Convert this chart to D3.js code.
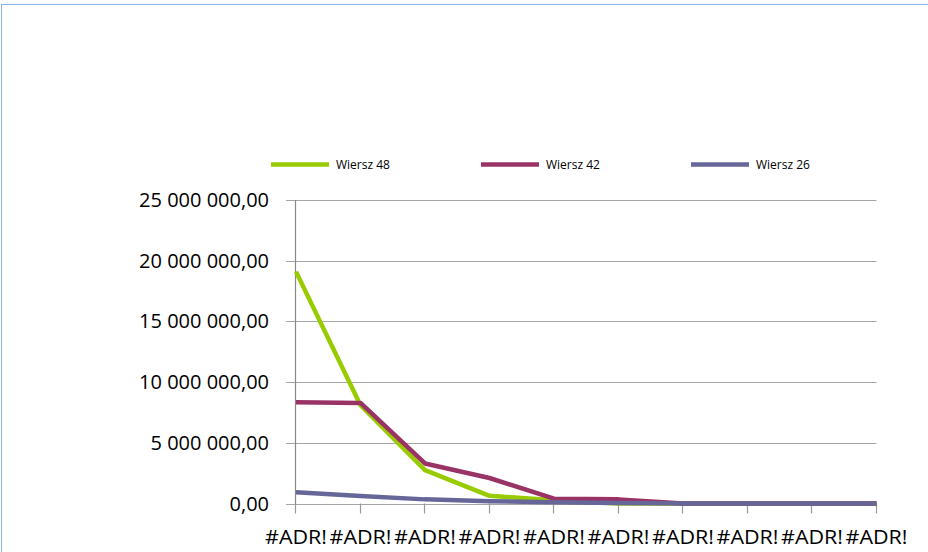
<!DOCTYPE html>
<html>
<head>
<meta charset="utf-8">
<script src="https://cdn.jsdelivr.net/npm/d3@7"></script>
<style>
  body { margin: 0; background: #fff; }
  text { font-family: "Open Sans", sans-serif; }
</style>
</head>
<body>
<div id="chart"></div>
<script>
// Chart size
var w = 928;
var h = 552;

// Data
var categories = ["#ADR!", "#ADR!", "#ADR!", "#ADR!", "#ADR!", "#ADR!", "#ADR!", "#ADR!", "#ADR!", "#ADR!"];
var seriesNames = ["Wiersz 48", "Wiersz 42", "Wiersz 26"];
var wiersz48 = [19100000, 8100000, 2750000, 630000, 270000, 0, 0, 0, 0, 0];
var wiersz42 = [8350000, 8280000, 3300000, 2100000, 400000, 340000, 0, 0, 0, 0];
var wiersz26 = [920000, 620000, 340000, 190000, 100000, 40000, 0, 0, 0, 0];
var yTicks = [0, 5000000, 10000000, 15000000, 20000000, 25000000];
var colors = ["#99cc00", "#993366", "#666699"];

var series = [wiersz48, wiersz42, wiersz26];

// Plot area (note: "top" is reserved on window, so use other names)
var plotLeft = 296, plotRight = 876.5, plotTop = 200, plotBottom = 503.5;

var svg = d3.select("#chart")
  .append("svg")
  .attr("width", w)
  .attr("height", h);

// Chart border (only top and left edges are visible in the picture)
svg.append("rect")
  .attr("x", 1.5)
  .attr("y", 4.5)
  .attr("width", w + 10)
  .attr("height", h + 10)
  .style("fill", "none")
  .style("stroke", "#8db3e2")
  .style("stroke-width", 1);

var x = d3.scalePoint()
  .domain(d3.range(categories.length))
  .range([plotLeft, plotRight]);

var y = d3.scaleLinear()
  .domain([0, 25000000])
  .range([plotBottom, plotTop]);

// number format like "25 000 000,00"
var fmt = d3.formatLocale({ decimal: ",", thousands: " ", grouping: [3], currency: ["", ""] }).format(",.2f");

// Gridlines
svg.append("g")
  .selectAll("line")
  .data(yTicks)
  .enter()
  .append("line")
  .attr("x1", plotLeft - 10)
  .attr("x2", plotRight)
  .attr("y1", function(d) { return Math.round(y(d)) + 0.5; })
  .attr("y2", function(d) { return Math.round(y(d)) + 0.5; })
  .style("stroke", "#a6a6a6")
  .style("stroke-width", 1.2);

// Y axis labels
svg.append("g")
  .selectAll("text")
  .data(yTicks)
  .enter()
  .append("text")
  .attr("x", 269)
  .attr("y", function(d) { return y(d); })
  .attr("dy", "0.35em")
  .attr("text-anchor", "end")
  .style("font-size", "20px")
  .style("fill", "#000")
  .text(function(d) { return fmt(d); });

// Y axis line
svg.append("line")
  .attr("x1", plotLeft - 0.5).attr("x2", plotLeft - 0.5)
  .attr("y1", plotTop).attr("y2", plotBottom + 1)
  .style("stroke", "#888")
  .style("stroke-width", 1.2);

// X axis ticks
svg.append("g")
  .selectAll("line")
  .data(d3.range(categories.length))
  .enter()
  .append("line")
  .attr("x1", function(d) { return Math.round(x(d)) - 0.5; })
  .attr("x2", function(d) { return Math.round(x(d)) - 0.5; })
  .attr("y1", plotBottom)
  .attr("y2", plotBottom + 10)
  .style("stroke", "#999")
  .style("stroke-width", 1.2);

// X labels
svg.append("g")
  .selectAll("text")
  .data(categories)
  .enter()
  .append("text")
  .attr("x", function(d, i) { return x(i); })
  .attr("y", 544)
  .attr("text-anchor", "middle")
  .attr("textLength", 62)
  .attr("lengthAdjust", "spacingAndGlyphs")
  .style("font-size", "20px")
  .style("fill", "#000")
  .text(function(d) { return d; });

// Lines
var line = d3.line()
  .x(function(d, i) { return x(i); })
  .y(function(d) { return y(d); });

svg.append("g")
  .selectAll("path")
  .data(series)
  .enter()
  .append("path")
  .attr("d", line)
  .style("fill", "none")
  .style("stroke", function(d, i) { return colors[i]; })
  .style("stroke-width", 4.5)
  .style("stroke-linejoin", "round");

// Legend
var legend = svg.append("g")
  .selectAll("g")
  .data(seriesNames)
  .enter()
  .append("g")
  .attr("transform", function(d, i) { return "translate(" + (271 + i * 210) + ",164.5)"; });

legend.append("line")
  .attr("x1", 0).attr("x2", 58)
  .attr("y1", 0).attr("y2", 0)
  .style("stroke", function(d, i) { return colors[i]; })
  .style("stroke-width", 4.5);

legend.append("text")
  .attr("x", 65)
  .attr("y", 0)
  .attr("dy", "0.35em")
  .style("font-size", "12px")
  .style("fill", "#000")
  .text(function(d) { return d; });
</script>
</body>
</html>
